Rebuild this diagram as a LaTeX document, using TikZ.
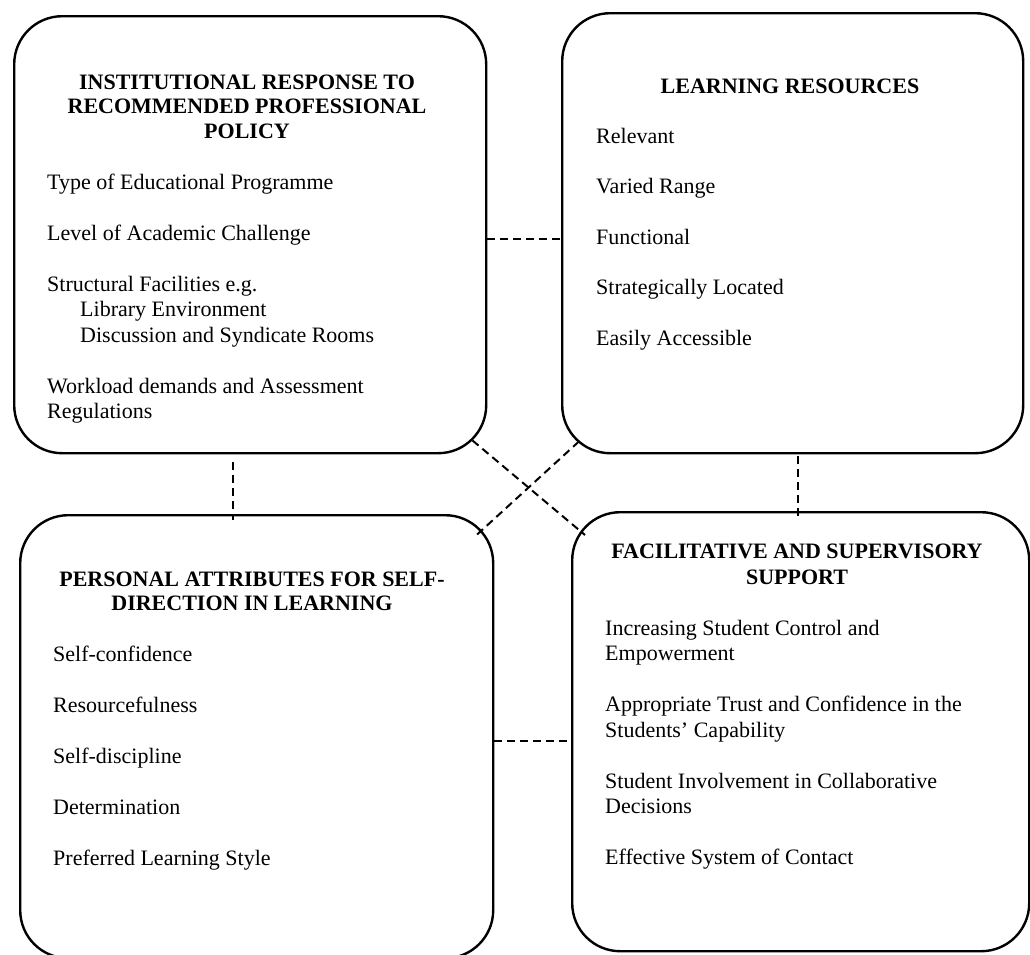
\documentclass[tikz,border=0pt]{standalone}
\usepackage{fontspec}
\setmainfont{Liberation Serif}
\usetikzlibrary{calc}
\begin{document}
\begin{tikzpicture}[x=1pt,y=-1pt,
  box/.style={draw, line width=2.4pt, rounded corners=48pt, inner sep=0pt, anchor=north west},
  link/.style={line width=2pt, dash pattern=on 8pt off 5pt},
  item/.style={anchor=base west, inner sep=0pt, font=\fontsize{22}{25}\selectfont},
  head/.style={anchor=base, inner sep=0pt, font=\fontsize{22}{25}\selectfont\bfseries}]
\path[use as bounding box] (0,0) rectangle (1030,954);

% boxes
\node[box, minimum width=472pt, minimum height=437pt] (b1) at (13,15) {};
\node[box, minimum width=461pt, minimum height=440pt] (b2) at (561,12) {};
\node[box, minimum width=473pt, minimum height=443pt] (b3) at (19,514) {};
\node[box, minimum width=457pt, minimum height=439pt] (b4) at (571,511) {};

% connectors
\coordinate (h1) at ($(b1.east)+(0,4.5)$);
\draw[link] (h1) -- (h1 -| b2.west);
\coordinate (h2) at ($(b3.east)+(0,4.5)$);
\draw[link] (h2) -- (h2 -| b4.west);
\coordinate (v1) at ($(b1.south)+(-17,8)$);
\draw[link] (v1) -- ($(v1 |- b3.north)+(0,6)$);
\coordinate (v2) at ($(b2.south)+(5.5,2)$);
\draw[link] (v2) -- ($(v2 |- b4.north)+(0,6)$);
\draw[link] ($(b1.south east)+(-15,-14)$) -- ($(b4.north west)+(14,24)$);
\draw[link] ($(b2.south west)+(18,-13)$) -- ($(b3.north east)+(-20,23)$);

% box 1
\node[head] (t1a) at (247,89) {INSTITUTIONAL RESPONSE TO};
\node[head] (t1b) at (247,113) {RECOMMENDED PROFESSIONAL};
\node[head] (t1c) at (247,138) {POLICY};
\node[item] (i1a) at (47,189) {Type of Educational Programme};
\node[item] (i1b) at (47,240) {Level of Academic Challenge};
\node[item] (i1c) at (47,291) {Structural Facilities e.g.};
\node[item] (i1d) at (80,316.5) {Library Environment};
\node[item] (i1e) at (80,342) {Discussion and Syndicate Rooms};
\node[item] (i1f) at (47,393) {Workload demands and Assessment};
\node[item] (i1g) at (47,418.5) {Regulations};

% box 2
\node[head] (t2a) at (790,93) {LEARNING RESOURCES};
\node[item] (i2a) at (596,143) {Relevant};
\node[item] (i2b) at (596,193.5) {Varied Range};
\node[item] (i2c) at (596,244) {Functional};
\node[item] (i2d) at (596,294.5) {Strategically Located};
\node[item] (i2e) at (596,345) {Easily Accessible};

% box 3
\node[head] (t3a) at (252,586) {PERSONAL ATTRIBUTES FOR SELF-};
\node[head] (t3b) at (252,610) {DIRECTION IN LEARNING};
\node[item] (i3a) at (53,661) {Self-confidence};
\node[item] (i3b) at (53,712) {Resourcefulness};
\node[item] (i3c) at (53,763) {Self-discipline};
\node[item] (i3d) at (53,814) {Determination};
\node[item] (i3e) at (53,865) {Preferred Learning Style};

% box 4
\node[head] (t4a) at (797,558) {FACILITATIVE AND SUPERVISORY};
\node[head] (t4b) at (797,584) {SUPPORT};
\node[item] (i4a) at (605,635) {Increasing Student Control and};
\node[item] (i4b) at (605,660.5) {Empowerment};
\node[item] (i4c) at (605,711.5) {Appropriate Trust and Confidence in the};
\node[item] (i4d) at (605,737) {Students’ Capability};
\node[item] (i4e) at (605,788) {Student Involvement in Collaborative};
\node[item] (i4f) at (605,813.5) {Decisions};
\node[item] (i4g) at (605,864.5) {Effective System of Contact};
\end{tikzpicture}
\end{document}
